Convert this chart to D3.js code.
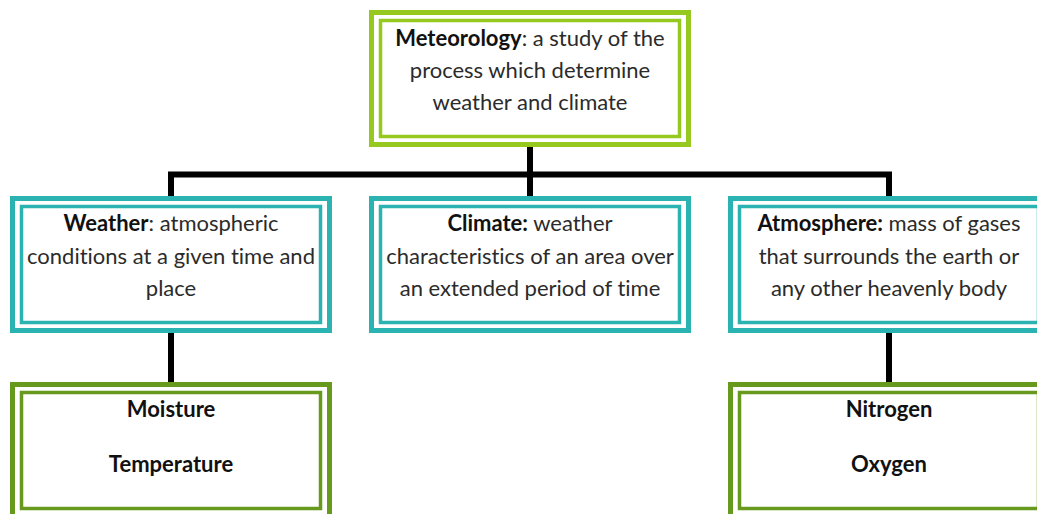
<!DOCTYPE html>
<html lang="en">
	<head>
		<meta charset="utf-8">
		<title>D3: Meteorology tree</title>
		<script type="text/javascript" src="https://cdn.jsdelivr.net/npm/d3@7"></script>
		<style type="text/css">
			body { margin: 0; background: #fff; }
			text { font-family: Lato, "Open Sans", sans-serif; fill: #2b2b2b; font-variant-ligatures: none; }
		</style>
	</head>
	<body>
		<script type="text/javascript">

		//Nodes of the diagram
		var ids     = ["meteorology", "weather", "climate", "atmosphere", "weatherParts", "atmosphereParts"];
		var parents = [null, "meteorology", "meteorology", "meteorology", "weather", "atmosphere"];
		var levels  = ["top", "middle", "middle", "middle", "bottom", "bottom"];
		var columns = ["climate", "weather", "climate", "atmosphere", "weather", "atmosphere"];

		//Bold heading and plain text, one entry per line
		var lines = [
			[["Meteorology", ": a study of the"], ["", "process which determine"], ["", "weather and climate"]],
			[["Weather", ": atmospheric"], ["", "conditions at a given time and"], ["", "place"]],
			[["Climate:", " weather"], ["", "characteristics of an area over"], ["", "an extended period of time"]],
			[["Atmosphere:", " mass of gases"], ["", "that surrounds the earth or"], ["", "any other heavenly body"]],
			[["Moisture", ""], ["Temperature", ""]],
			[["Nitrogen", ""], ["Oxygen", ""]]
		];

		var w = 1037;
		var h = 514;
		var boxW = 322;
		var boxH = 137;

		var colour = d3.scaleOrdinal()
			.domain(["top", "middle", "bottom"])
			.range(["#95c91f", "#2ab3b0", "#66991c"]);

		var x = d3.scalePoint()
			.domain(["weather", "climate", "atmosphere"])
			.range([171, 889]);

		var y = d3.scalePoint()
			.domain(["top", "middle", "bottom"])
			.range([10, 382]);

		var lineGap = { top: 32, middle: 32.5, bottom: 55 };
		var firstLine = { top: 36, middle: 35, bottom: 35 };

		var nodes = ids.map(function(id, i) {
			return { id: id, parent: parents[i], level: levels[i], cx: x(columns[i]), y: y(levels[i]), lines: lines[i] };
		});
		var byId = {};
		nodes.forEach(function(d) { byId[d.id] = d; });

		var svg = d3.select("body")
					.append("svg")
					.attr("width", w)
					.attr("height", h);

		//Connectors
		var links = nodes.filter(function(d) { return d.parent; });
		svg.selectAll("path.link")
			.data(links)
			.enter()
			.append("path")
			.attr("class", "link")
			.attr("fill", "none")
			.attr("stroke", "#000")
			.attr("stroke-width", 6)
			.attr("d", function(d) {
				var p = byId[d.parent];
				var y0 = p.y + boxH;
				if (p.level == "top") {
					var mid = (y0 + d.y) / 2 + 3;
					return "M" + p.cx + "," + y0 + "V" + mid + "H" + d.cx + "V" + d.y;
				}
				return "M" + d.cx + "," + y0 + "V" + d.y;
			});

		//Boxes
		var boxes = svg.selectAll("g.box")
			.data(nodes)
			.enter()
			.append("g")
			.attr("class", "box")
			.attr("transform", function(d) { return "translate(" + (d.cx - boxW / 2) + "," + d.y + ")"; });

		boxes.append("rect")
			.attr("x", 2.5).attr("y", 2.5)
			.attr("width", boxW - 5).attr("height", boxH - 5)
			.attr("fill", "#fff")
			.attr("stroke", function(d) { return colour(d.level); })
			.attr("stroke-width", 5);

		boxes.append("rect")
			.attr("x", 11.5).attr("y", 10.5)
			.attr("width", boxW - 23).attr("height", boxH - 21)
			.attr("fill", "none")
			.attr("stroke", function(d) { return colour(d.level); })
			.attr("stroke-width", 3.5);

		//Labels
		boxes.each(function(d) {
			var g = d3.select(this);
			d.lines.forEach(function(l, i) {
				var t = g.append("text")
					.attr("x", boxW / 2)
					.attr("y", firstLine[d.level] + i * lineGap[d.level])
					.attr("text-anchor", "middle")
					.style("font-size", "22px");
				if (l[0]) t.append("tspan").style("font-weight", "bold").style("fill", "#111").text(l[0]);
				if (l[1]) t.append("tspan").text(l[1]);
			});
		});

		</script>
	</body>
</html>
